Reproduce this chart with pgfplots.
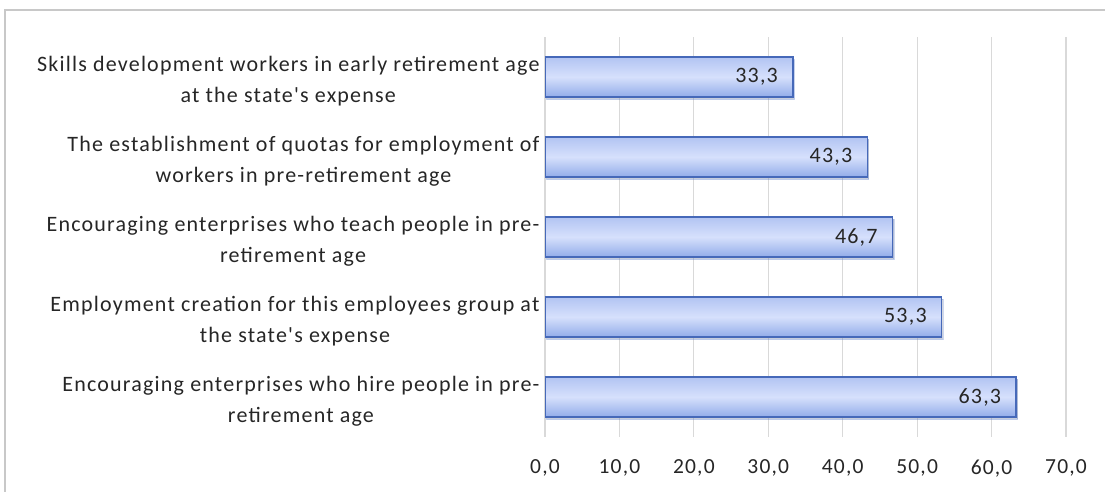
\documentclass[border=0pt]{standalone}
\usepackage{pgfplots}
\pgfplotsset{compat=1.18}
\usetikzlibrary{shadows}
\usepackage{fontspec}
\setmainfont{Carlito}
\newfontfamily\spfont[LetterSpace=5.5]{Carlito}
\definecolor{barline}{RGB}{70,105,185}
\definecolor{bartop}{RGB}{178,196,242}
\definecolor{barmid}{RGB}{214,224,252}
\definecolor{barbot}{RGB}{146,172,233}
\definecolor{gridc}{RGB}{217,217,217}
\definecolor{framec}{RGB}{200,200,200}
\begin{document}
\begin{tikzpicture}[x=1pt,y=1pt]
\useasboundingbox (0,0) rectangle (1105,492);
\draw[framec, line width=1.2pt] (5,-20) rectangle (1130,482);
\begin{axis}[
  at={(545pt,55pt)}, anchor=south west,
  scale only axis, width=521pt, height=400pt,
  xmin=0, xmax=70, ymin=-0.5, ymax=4.5,
  xbar, bar width=40pt, bar shift=0pt,
  xtick={0,10,...,70}, ytick={0,1,2,3,4},
  yticklabels={
    {Encouraging enterprises who hire people in pre-\\retirement age},
    {Employment creation for this employees group at\\the state's expense},
    {Encouraging enterprises who teach people in pre-\\retirement age},
    {The establishment of quotas for employment of\\workers in pre-retirement age},
    {Skills development workers in early retirement age\\at the state's expense}},
  yticklabel style={align=center, font=\spfont\fontsize{22}{31}\selectfont, text=black!85, xshift=-2pt, yshift=-4pt},
  xticklabel style={font=\spfont\fontsize{21.5}{24}\selectfont, text=black!85, yshift=-19pt,
    /pgf/number format/.cd, fixed, fixed zerofill, precision=1, use comma, assume math mode=true},
  xmajorgrids, major grid style={gridc, line width=1.2pt},
  axis line style={draw=none}, major tick length=0pt,
  nodes near coords,
  every node near coord/.append style={anchor=east, xshift=-11pt, font=\spfont\fontsize{22}{24}\selectfont, text=black!85,
    /pgf/number format/.cd, fixed, fixed zerofill, precision=1, use comma, assume math mode=true},
  barstyle/.style={draw=barline, line width=1.3pt, top color=bartop, bottom color=barbot, middle color=barmid,
    drop shadow={shadow xshift=1.5pt, shadow yshift=-2.5pt, opacity=0.25, fill=black!60}},
]
\addplot[barstyle] coordinates {(63.3,0)};
\addplot[barstyle] coordinates {(53.3,1)};
\addplot[barstyle] coordinates {(46.7,2)};
\addplot[barstyle] coordinates {(43.3,3)};
\addplot[barstyle] coordinates {(33.3,4)};
\end{axis}
\end{tikzpicture}
\end{document}
